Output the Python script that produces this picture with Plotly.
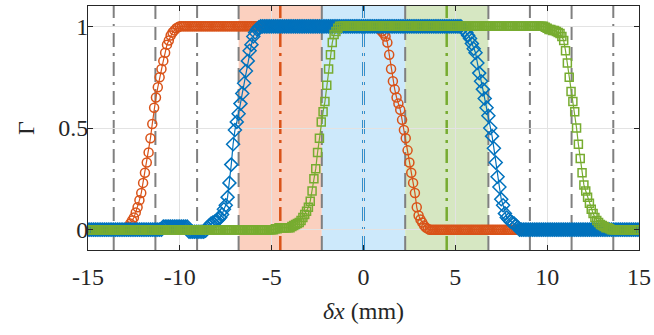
import plotly.graph_objects as go

# ---------------- data ----------------
# common sampling positions delta-x (mm), one row per millimetre
x_mm = [
    -15.0, -14.9, -14.8, -14.7, -14.6, -14.5, -14.4, -14.3, -14.2, -14.1,
    -14.0, -13.9, -13.8, -13.7, -13.6, -13.5, -13.4, -13.3, -13.2, -13.1,
    -13.0, -12.9, -12.8, -12.7, -12.6, -12.5, -12.4, -12.3, -12.2, -12.1,
    -12.0, -11.9, -11.8, -11.7, -11.6, -11.5, -11.4, -11.3, -11.2, -11.1,
    -11.0, -10.9, -10.8, -10.7, -10.6, -10.5, -10.4, -10.3, -10.2, -10.1,
    -10.0, -9.9, -9.8, -9.7, -9.6, -9.5, -9.4, -9.3, -9.2, -9.1,
    -9.0, -8.9, -8.8, -8.7, -8.6, -8.5, -8.4, -8.3, -8.2, -8.1,
    -8.0, -7.9, -7.8, -7.7, -7.6, -7.5, -7.4, -7.3, -7.2, -7.1,
    -7.0, -6.9, -6.8, -6.7, -6.6, -6.5, -6.4, -6.3, -6.2, -6.1,
    -6.0, -5.9, -5.8, -5.7, -5.6, -5.5, -5.4, -5.3, -5.2, -5.1,
    -5.0, -4.9, -4.8, -4.7, -4.6, -4.5, -4.4, -4.3, -4.2, -4.1,
    -4.0, -3.9, -3.8, -3.7, -3.6, -3.5, -3.4, -3.3, -3.2, -3.1,
    -3.0, -2.9, -2.8, -2.7, -2.6, -2.5, -2.4, -2.3, -2.2, -2.1,
    -2.0, -1.9, -1.8, -1.7, -1.6, -1.5, -1.4, -1.3, -1.2, -1.1,
    -1.0, -0.9, -0.8, -0.7, -0.6, -0.5, -0.4, -0.3, -0.2, -0.1,
    0.0, 0.1, 0.2, 0.3, 0.4, 0.5, 0.6, 0.7, 0.8, 0.9,
    1.0, 1.1, 1.2, 1.3, 1.4, 1.5, 1.6, 1.7, 1.8, 1.9,
    2.0, 2.1, 2.2, 2.3, 2.4, 2.5, 2.6, 2.7, 2.8, 2.9,
    3.0, 3.1, 3.2, 3.3, 3.4, 3.5, 3.6, 3.7, 3.8, 3.9,
    4.0, 4.1, 4.2, 4.3, 4.4, 4.5, 4.6, 4.7, 4.8, 4.9,
    5.0, 5.1, 5.2, 5.3, 5.4, 5.5, 5.6, 5.7, 5.8, 5.9,
    6.0, 6.1, 6.2, 6.3, 6.4, 6.5, 6.6, 6.7, 6.8, 6.9,
    7.0, 7.1, 7.2, 7.3, 7.4, 7.5, 7.6, 7.7, 7.8, 7.9,
    8.0, 8.1, 8.2, 8.3, 8.4, 8.5, 8.6, 8.7, 8.8, 8.9,
    9.0, 9.1, 9.2, 9.3, 9.4, 9.5, 9.6, 9.7, 9.8, 9.9,
    10.0, 10.1, 10.2, 10.3, 10.4, 10.5, 10.6, 10.7, 10.8, 10.9,
    11.0, 11.1, 11.2, 11.3, 11.4, 11.5, 11.6, 11.7, 11.8, 11.9,
    12.0, 12.1, 12.2, 12.3, 12.4, 12.5, 12.6, 12.7, 12.8, 12.9,
    13.0, 13.1, 13.2, 13.3, 13.4, 13.5, 13.6, 13.7, 13.8, 13.9,
    14.0, 14.1, 14.2, 14.3, 14.4, 14.5, 14.6, 14.7, 14.8, 14.9,
    15.0]

# orange (circles)
gamma_orange = [
    0, 0, 0, 0, 0, 0, 0, 0, 0, 0,                                   # -15
    0, 0, 0, 0, 0, 0, 0, 0, 0, 0,                                   # -14
    0, 0.005, 0.015, 0.03, 0.045, 0.06, 0.085, 0.11, 0.145, 0.18,   # -13
    0.23, 0.28, 0.33, 0.38, 0.45, 0.52, 0.60, 0.65, 0.70, 0.75,     # -12
    0.79, 0.83, 0.87, 0.91, 0.93, 0.955, 0.97, 0.98, 0.99, 0.995,   # -11
    1, 1, 1, 1, 1, 1, 1, 1, 1, 1,                                   # -10
    1, 1, 1, 1, 1, 1, 1, 1, 1, 1,                                   # -9
    1, 1, 1, 1, 1, 1, 1, 1, 1, 1,                                   # -8
    1, 1, 1, 1, 1, 1, 1, 1, 1, 1,                                   # -7
    1, 1, 1, 1, 1, 1, 1, 1, 1, 1,                                   # -6
    1, 1, 1, 1, 1, 1, 1, 1, 1, 1,                                   # -5
    1, 1, 1, 1, 1, 1, 1, 1, 1, 1,                                   # -4
    1, 1, 1, 1, 1, 1, 1, 1, 1, 1,                                   # -3
    1, 1, 1, 1, 1, 1, 1, 1, 1, 1,                                   # -2
    1, 1, 1, 1, 1, 1, 1, 1, 1, 1,                                   # -1
    1, 1, 1, 1, 1, 1, 1, 1, 0.995, 0.985,                           # 0
    0.975, 0.965, 0.95, 0.92, 0.86, 0.79, 0.73, 0.69, 0.65, 0.62,   # 1
    0.59, 0.54, 0.49, 0.45, 0.39, 0.33, 0.28, 0.23, 0.18, 0.11,     # 2
    0.07, 0.05, 0.035, 0.02, 0.01, 0.005, 0, 0, 0, 0,               # 3
    0, 0, 0, 0, 0, 0, 0, 0, 0, 0,                                   # 4
    0, 0, 0, 0, 0, 0, 0, 0, 0, 0,                                   # 5
    0, 0, 0, 0, 0, 0, 0, 0, 0, 0,                                   # 6
    0, 0, 0, 0, 0, 0, 0, 0, 0, 0,                                   # 7
    0, 0, 0, 0, 0, 0, 0, 0, 0, 0,                                   # 8
    0, 0, 0, 0, 0, 0, 0, 0, 0, 0,                                   # 9
    0, 0, 0, 0, 0, 0, 0, 0, 0, 0,                                   # 10
    0, 0, 0, 0, 0, 0, 0, 0, 0, 0,                                   # 11
    0, 0, 0, 0, 0, 0, 0, 0, 0, 0,                                   # 12
    0, 0, 0, 0, 0, 0, 0, 0, 0, 0,                                   # 13
    0, 0, 0, 0, 0, 0, 0, 0, 0, 0,                                   # 14
    0]

# blue (diamonds)
gamma_blue = [
    0, 0, 0, 0, 0, 0, 0, 0, 0, 0,                                   # -15
    0, 0, 0, 0, 0, 0, 0, 0, 0, 0,                                   # -14
    0, 0, 0, 0, 0, 0, 0, 0, 0, 0,                                   # -13
    0, 0, 0, 0, 0, 0, 0, 0, 0, 0,                                   # -12
    0, 0.015, 0.015, 0.015, 0.015, 0.015, 0.015, 0.015, 0.015, 0.015,  # -11
    0.015, 0.015, 0.015, 0.015, 0.015, -0.01, -0.01, -0.01, -0.01, -0.01,  # -10
    -0.01, -0.01, -0.01, -0.01, -0.005, 0.01, 0.02, 0.03, 0.035, 0.04,  # -9
    0.045, 0.05, 0.06, 0.075, 0.10, 0.12, 0.16, 0.23, 0.32, 0.42,   # -8
    0.49, 0.53, 0.57, 0.62, 0.67, 0.72, 0.78, 0.83, 0.88, 0.91,     # -7
    0.95, 0.97, 0.985, 0.995, 1, 1, 1, 1, 1, 1,                     # -6
    1, 1, 1, 1, 1, 1, 1, 1, 1, 1,                                   # -5
    1, 1, 1, 1, 1, 1, 1, 1, 1, 1,                                   # -4
    1, 1, 1, 1, 1, 1, 1, 1, 1, 1,                                   # -3
    1, 1, 1, 1, 1, 1, 1, 1, 1, 1,                                   # -2
    1, 1, 1, 1, 1, 1, 1, 1, 1, 1,                                   # -1
    1, 1, 1, 1, 1, 1, 1, 1, 1, 1,                                   # 0
    1, 1, 1, 1, 1, 1, 1, 1, 1, 1,                                   # 1
    1, 1, 1, 1, 1, 1, 1, 1, 1, 1,                                   # 2
    1, 1, 1, 1, 1, 1, 1, 1, 1, 1,                                   # 3
    1, 1, 1, 1, 1, 1, 1, 1, 1, 1,                                   # 4
    1, 1, 1, 1, 0.99, 0.98, 0.97, 0.955, 0.94, 0.915,               # 5
    0.89, 0.87, 0.82, 0.77, 0.73, 0.69, 0.645, 0.60, 0.56, 0.50,    # 6
    0.46, 0.40, 0.33, 0.26, 0.21, 0.15, 0.12, 0.08, 0.06, 0.05,     # 7
    0.04, 0.035, 0.03, 0.02, 0.01, 0, 0, 0, 0, 0,                   # 8
    0, 0, 0, 0, 0, 0, 0, 0, 0, 0,                                   # 9
    0, 0, 0, 0, 0, 0, 0, 0, 0, 0,                                   # 10
    0, 0, 0, 0, 0, 0, 0, 0, 0, 0,                                   # 11
    0, 0, 0, 0, 0, 0, 0, 0, 0, 0,                                   # 12
    0, 0, 0, 0, 0, 0, 0, 0, 0, 0,                                   # 13
    0, 0, 0, 0, 0, 0, 0, 0, 0, 0,                                   # 14
    0]

# green (squares)
gamma_green = [
    0, 0, 0, 0, 0, 0, 0, 0, 0, 0,                                   # -15
    0, 0, 0, 0, 0, 0, 0, 0, 0, 0,                                   # -14
    0, 0, 0, 0, 0, 0, 0, 0, 0, 0,                                   # -13
    0, 0, 0, 0, 0, 0, 0, 0, 0, 0,                                   # -12
    0, 0, 0, 0, 0, 0, 0, 0, 0, 0,                                   # -11
    0, 0, 0, 0, 0, 0, 0, 0, 0, 0,                                   # -10
    0, 0, 0, 0, 0, 0, 0, 0, 0, 0,                                   # -9
    0, 0, 0, 0, 0, 0, 0, 0, 0, 0,                                   # -8
    0, 0, 0, 0, 0, 0, 0, 0, 0, 0,                                   # -7
    0, 0, 0, 0, 0, 0, 0, 0, 0, 0,                                   # -6
    0, 0, 0.005, 0.005, 0.01, 0.01, 0.01, 0.01, 0.01, 0.01,         # -5
    0.01, 0.015, 0.02, 0.025, 0.03, 0.035, 0.045, 0.06, 0.075, 0.09,  # -4
    0.11, 0.14, 0.19, 0.25, 0.30, 0.38, 0.45, 0.53, 0.58, 0.63,     # -3
    0.71, 0.79, 0.86, 0.92, 0.96, 0.975, 0.99, 1, 1, 1,             # -2
    1, 1, 1, 1, 1, 1, 1, 1, 1, 1,                                   # -1
    1, 1, 1, 1, 1, 1, 1, 1, 1, 1,                                   # 0
    1, 1, 1, 1, 1, 1, 1, 1, 1, 1,                                   # 1
    1, 1, 1, 1, 1, 1, 1, 1, 1, 1,                                   # 2
    1, 1, 1, 1, 1, 1, 1, 1, 1, 1,                                   # 3
    1, 1, 1, 1, 1, 1, 1, 1, 1, 1,                                   # 4
    1, 1, 1, 1, 1, 1, 1, 1, 1, 1,                                   # 5
    1, 1, 1, 1, 1, 1, 1, 1, 1, 1,                                   # 6
    1, 1, 1, 1, 1, 1, 1, 1, 1, 1,                                   # 7
    1, 1, 1, 1, 1, 1, 1, 1, 1, 1,                                   # 8
    1, 1, 1, 1, 1, 1, 1, 1, 1, 0.995,                               # 9
    0.99, 0.985, 0.985, 0.98, 0.98, 0.975, 0.97, 0.965, 0.95, 0.93,  # 10
    0.88, 0.82, 0.75, 0.68, 0.63, 0.58, 0.50, 0.42, 0.35, 0.28,     # 11
    0.22, 0.19, 0.16, 0.13, 0.10, 0.08, 0.06, 0.045, 0.035, 0.025,  # 12
    0.02, 0.015, 0.01, 0.01, 0.005, 0, 0, 0, 0, 0,                  # 13
    0, 0, 0, 0, 0, 0, 0, 0, 0, 0,                                   # 14
    0]

# reference line positions (mm)
gray_dashdot_x = [-13.6, -9.06, 9.06, 13.6]
gray_dashed_x = [-11.33, -6.8, -2.27, 2.27, 6.8, 11.33]
center_x = [-4.53, 0.0, 4.53]
band_edges = [(-6.8, -2.27), (-2.27, 2.27), (2.27, 6.8)]

x_ticks = [-15, -10, -5, 0, 5, 10, 15]
x_tick_text = ["-15", "-10", "-5", "0", "5", "10", "15"]
y_ticks = [0, 0.5, 1]
y_tick_text = ["0", "0.5", "1"]

# ---------------- style ----------------
C_OR = "#D95319"
C_BL = "#0072BD"
C_GR = "#77AC30"
band_fill = ["#FBD0BF", "#CDE9FB", "#D6E7C2"]
FONT = "Liberation Serif"
AX = "#262626"

fig = go.Figure()

for (a, b), col in zip(band_edges, band_fill):
    fig.add_shape(type="rect", xref="x", yref="paper", x0=a, x1=b, y0=0, y1=1,
                  fillcolor=col, line_width=0, layer="below")

for xv in gray_dashdot_x:
    fig.add_shape(type="line", xref="x", yref="paper", x0=xv, x1=xv, y0=0, y1=1,
                  line=dict(color="#808080", width=2, dash="14px,6px,3px,6px"), layer="between")
for xv in gray_dashed_x:
    fig.add_shape(type="line", xref="x", yref="paper", x0=xv, x1=xv, y0=0, y1=1,
                  line=dict(color="#808080", width=2, dash="14px,7px"), layer="between")
for xv, col in zip(center_x, [C_OR, C_BL, C_GR]):
    fig.add_shape(type="line", xref="x", yref="paper", x0=xv, x1=xv, y0=0, y1=1,
                  line=dict(color=col, width=2.5, dash="14px,6px,3px,6px"), layer="between")

def add_series(ys, col, sym, size):
    fig.add_trace(go.Scatter(
        x=x_mm, y=ys, mode="lines+markers",
        line=dict(color=col, width=1.2),
        marker=dict(symbol=sym, size=size, color=col, line=dict(color=col, width=1.5)),
        showlegend=False, hoverinfo="skip"))

add_series(gamma_orange, C_OR, "circle-open", 9)
add_series(gamma_blue, C_BL, "diamond-open", 10)
add_series(gamma_green, C_GR, "square-open", 8)

axis_common = dict(showline=True, linecolor=AX, linewidth=1, mirror="ticks",
                   ticks="inside", ticklen=5, tickcolor=AX, tickwidth=1,
                   showgrid=True, gridcolor="#E3E3E3", gridwidth=1, zeroline=False,
                   automargin=False,
                   tickfont=dict(family=FONT, size=24, color=AX))

fig.update_xaxes(range=[-15, 15], tickvals=x_ticks, ticktext=x_tick_text,
                 ticklabelstandoff=5,
                 title=dict(text="<i>δx</i> (mm)", font=dict(family=FONT, size=24, color=AX),
                            standoff=13),
                 **axis_common)
fig.update_yaxes(range=[-0.1, 1.1], tickvals=y_ticks, ticktext=y_tick_text,
                 ticklabelstandoff=-6,
                 title=dict(text="Γ", font=dict(family=FONT, size=24, color=AX), standoff=16),
                 **axis_common)

fig.update_layout(width=654, height=335,
                  margin=dict(l=88, r=15, t=6, b=85),
                  paper_bgcolor="white", plot_bgcolor="white",
                  font=dict(family=FONT, color=AX))

fig.write_html("out.html", config={"displayModeBar": False},
               post_script="document.body.style.margin='0';document.body.style.overflow='hidden';")
